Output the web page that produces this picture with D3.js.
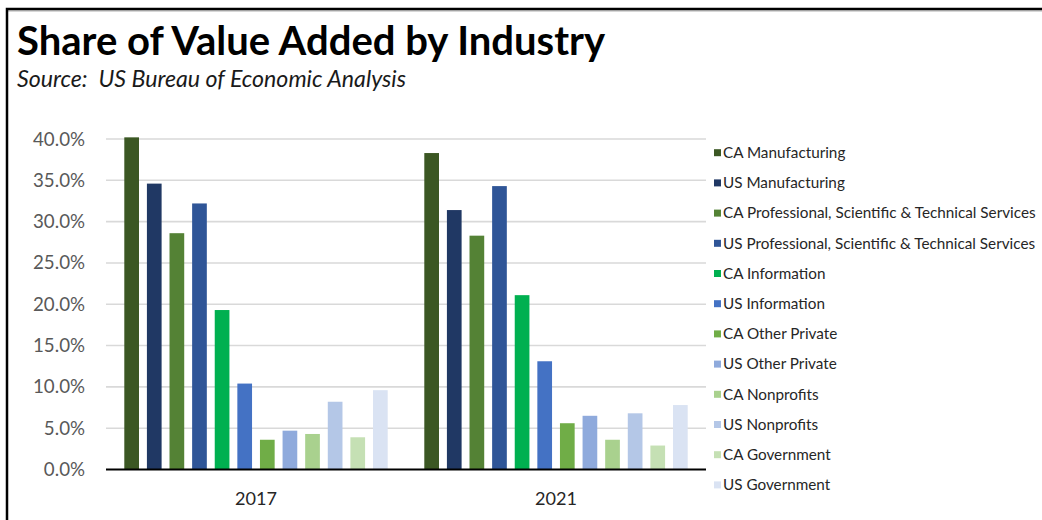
<!DOCTYPE html>
<html>
<head>
<meta charset="utf-8">
<script src="https://cdn.jsdelivr.net/npm/d3@7"></script>
<style>
  html, body { margin: 0; padding: 0; background: #fff; }
  svg { display: block; }
</style>
</head>
<body>
<svg id="chart" width="1042" height="520"></svg>
<script>
// Years shown along the x axis
const years = ["2017", "2021"];

// Series (legend order) and their fill colours
const seriesNames = [
  "CA Manufacturing",
  "US Manufacturing",
  "CA Professional, Scientific & Technical Services",
  "US Professional, Scientific & Technical Services",
  "CA Information",
  "US Information",
  "CA Other Private",
  "US Other Private",
  "CA Nonprofits",
  "US Nonprofits",
  "CA Government",
  "US Government"
];
const seriesColors = [
  "#3b5723", "#203864", "#548235", "#2f5597",
  "#00b050", "#4472c4", "#70ad47", "#8faadc",
  "#a9d18e", "#b4c7e7", "#c5e0b4", "#dae3f3"
];

// Share of value added, one value per series for each year
const values2017 = [0.402, 0.346, 0.286, 0.322, 0.193, 0.104, 0.036, 0.047, 0.043, 0.082, 0.039, 0.096];
const values2021 = [0.383, 0.314, 0.283, 0.343, 0.211, 0.131, 0.056, 0.065, 0.036, 0.068, 0.029, 0.078];

// Y axis tick values
const yTicks = [0, 0.05, 0.10, 0.15, 0.20, 0.25, 0.30, 0.35, 0.40];

const titleText = "Share of Value Added by Industry";
const subtitleText = "Source:  US Bureau of Economic Analysis";

const valuesByYear = { "2017": values2017, "2021": values2021 };
const rows = years.map(y => ({
  year: y,
  bars: seriesNames.map((s, i) => ({ series: s, value: valuesByYear[y][i], color: seriesColors[i] }))
}));

const FONT = "Lato, 'Noto Sans', sans-serif";

// Pick a font size so a string spans the given width
const measureCtx = document.createElement("canvas").getContext("2d");
function fitSize(text, targetWidth, weight = "normal", style = "normal") {
  measureCtx.font = `${style} ${weight} 100px Lato`;
  const w = measureCtx.measureText(text).width;
  return 100 * targetWidth / w;
}

const svg = d3.select("#chart");

// Frame around the chart area (top and left edges)
svg.append("line")
  .attr("x1", 7).attr("x2", 1042).attr("y1", 11).attr("y2", 11)
  .attr("stroke", "#b0b0b0").attr("stroke-width", 1);
svg.append("path")
  .attr("d", "M7,520 V9 H1042")
  .attr("fill", "none").attr("stroke", "#000").attr("stroke-width", 2.5);

// Title and source line
svg.append("text")
  .attr("x", 17).attr("y", 55)
  .attr("font-family", FONT).attr("font-weight", "bold")
  .attr("font-size", fitSize(titleText, 593, "bold"))
  .attr("fill", "#000")
  .text(titleText);
svg.append("text")
  .attr("x", 17).attr("y", 87)
  .attr("font-family", FONT).attr("font-style", "italic")
  .attr("font-size", fitSize(subtitleText, 390, "normal", "italic"))
  .attr("fill", "#1a1a1a")
  .style("white-space", "pre")
  .text(subtitleText);

// Scales
const plotLeft = 106, plotRight = 706, plotBottom = 469.5, plotTop = 139;
const y = d3.scaleLinear().domain([0, 0.4]).range([plotBottom, plotTop]);
const x0 = d3.scaleBand().domain(years).range([plotLeft, plotRight])
  .paddingInner(0.122).paddingOuter(0.061);
const x1 = d3.scaleBand().domain(seriesNames).range([0, x0.bandwidth()])
  .paddingInner(0.35).paddingOuter(0);

// Gridlines
svg.append("g")
  .selectAll("line")
  .data(yTicks.filter(t => t > 0))
  .join("line")
  .attr("x1", plotLeft).attr("x2", plotRight)
  .attr("y1", d => y(d)).attr("y2", d => y(d))
  .attr("stroke", "#d9d9d9").attr("stroke-width", 1.6);

// Y axis labels
const yAxis = svg.append("g")
  .attr("transform", `translate(${plotLeft - 21},0)`)
  .call(d3.axisLeft(y).tickValues(yTicks).tickFormat(d3.format(".1%")).tickSize(0).tickPadding(0));
yAxis.select(".domain").remove();
yAxis.selectAll("text")
  .attr("font-family", FONT)
  .attr("font-size", fitSize("40.0%", 52))
  .attr("fill", "#595959");

// Bars
svg.append("g")
  .selectAll("g")
  .data(rows)
  .join("g")
  .attr("transform", d => `translate(${x0(d.year)},0)`)
  .selectAll("rect")
  .data(d => d.bars)
  .join("rect")
  .attr("x", d => x1(d.series))
  .attr("width", x1.bandwidth())
  .attr("y", d => y(d.value))
  .attr("height", d => y(0) - y(d.value))
  .attr("fill", d => d.color);

// X axis baseline and year labels
const xAxis = svg.append("g")
  .attr("transform", `translate(0,${plotBottom})`)
  .call(d3.axisBottom(x0).tickSize(0).tickPadding(0));
xAxis.select(".domain")
  .attr("d", `M${plotLeft},0H${plotRight}`)
  .attr("stroke", "#000").attr("stroke-width", 2);
xAxis.selectAll("text")
  .attr("dy", null)
  .attr("y", 35)
  .attr("font-family", FONT)
  .attr("font-size", fitSize("2017", 42))
  .attr("fill", "#262626");

// Legend
const legendFont = fitSize(seriesNames[2], 314);
const legend = svg.append("g")
  .selectAll("g")
  .data(seriesNames)
  .join("g")
  .attr("transform", (d, i) => `translate(714,${152.7 + i * 30.2})`);
legend.append("rect")
  .attr("x", 0).attr("y", -3.5)
  .attr("width", 7).attr("height", 7)
  .attr("fill", (d, i) => seriesColors[i]);
legend.append("text")
  .attr("x", 9).attr("y", 0).attr("dy", "0.35em")
  .attr("font-family", FONT)
  .attr("font-size", legendFont)
  .attr("fill", "#262626")
  .text(d => d);
</script>
</body>
</html>
